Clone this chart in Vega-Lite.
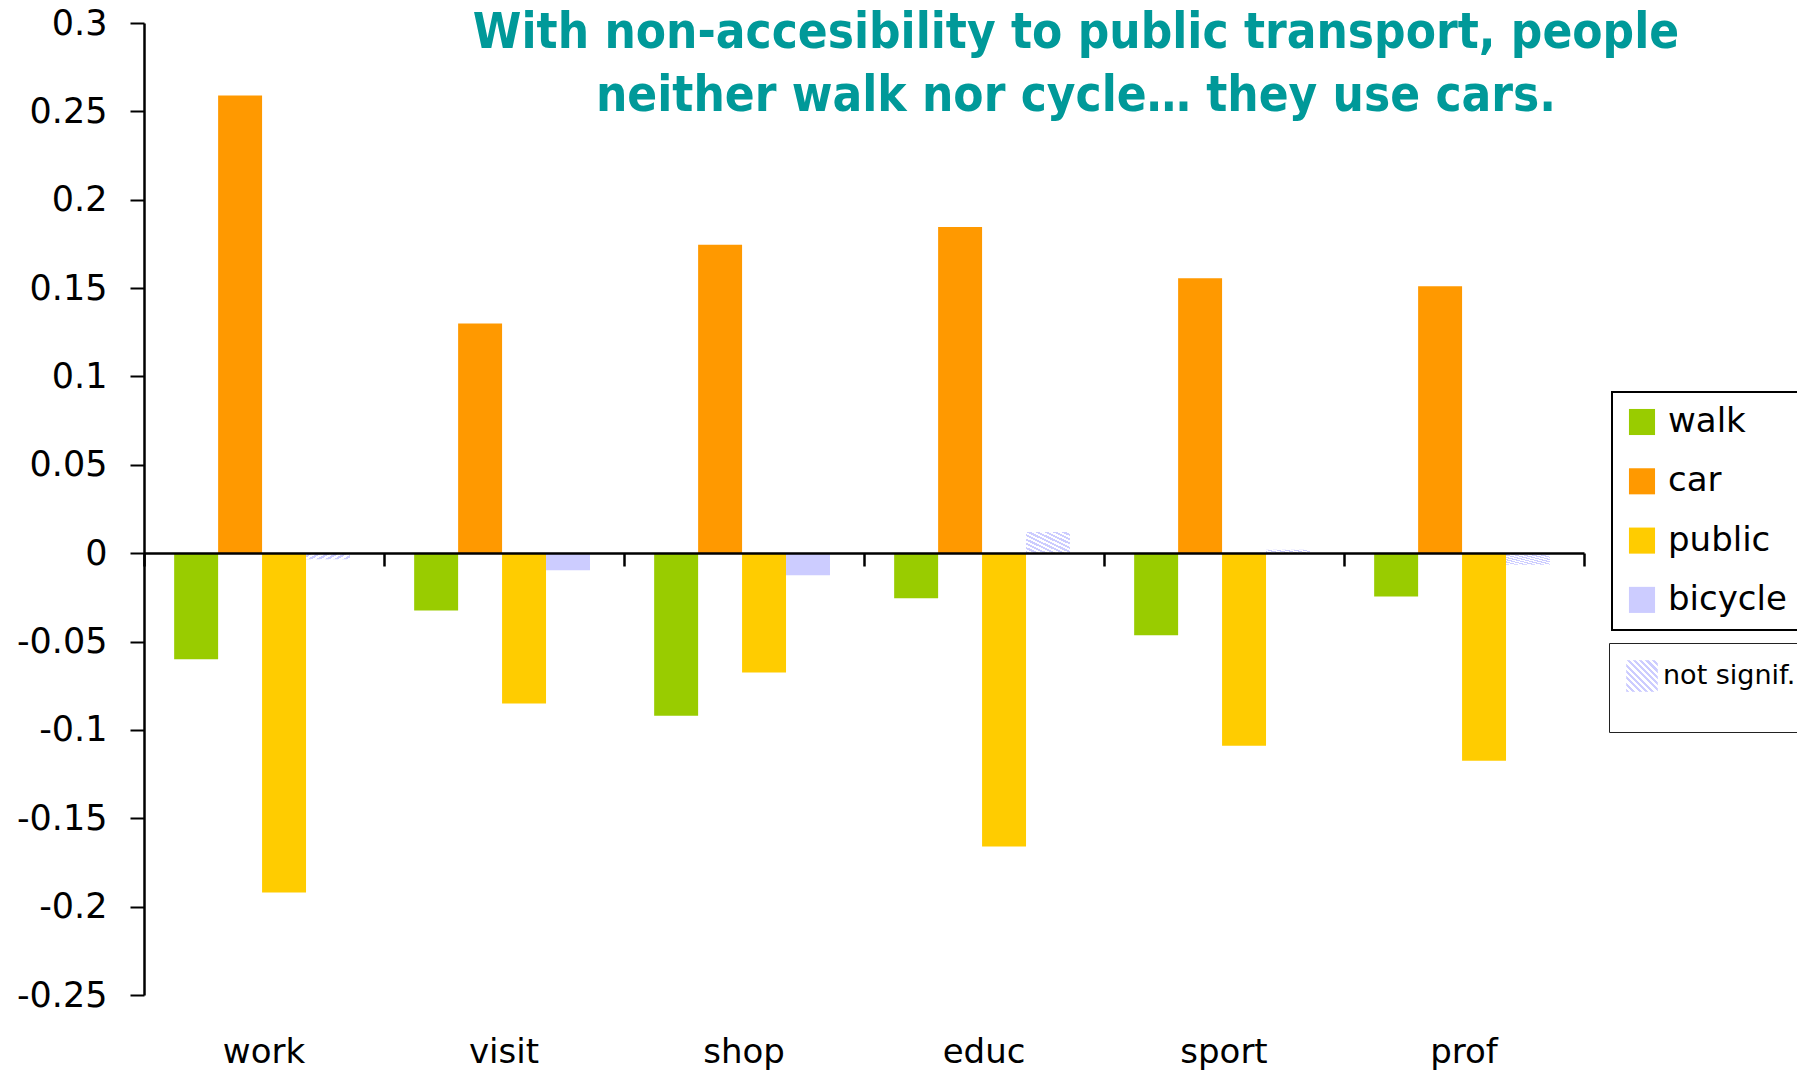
{
  "$schema": "https://vega.github.io/schema/vega-lite/v6.json",
  "width": 1440,
  "height": 972,
  "autosize": {"type": "none"},
  "padding": {"left": 144, "top": 23, "right": 213, "bottom": 78},
  "background": "white",
  "config": {"view": {"stroke": null}, "font": "DejaVu Sans"},
  "title": {
    "text": ["With non-accesibility to public transport, people", "neither walk nor cycle… they use cars."],
    "font": "DejaVu Sans Condensed",
    "fontWeight": "bold",
    "fontSize": 49,
    "color": "#009999",
    "anchor": "middle",
    "frame": "group",
    "dx": 212,
    "dy": 15,
    "offset": -100,
    "lineHeight": 63
  },
  "data": {
    "values": [
      {"purpose": "work", "mode": "walk", "value": -0.060, "sig": "yes"},
      {"purpose": "work", "mode": "car", "value": 0.259, "sig": "yes"},
      {"purpose": "work", "mode": "public", "value": -0.192, "sig": "yes"},
      {"purpose": "work", "mode": "bicycle", "value": -0.0035, "sig": "not signif."},
      {"purpose": "visit", "mode": "walk", "value": -0.0325, "sig": "yes"},
      {"purpose": "visit", "mode": "car", "value": 0.130, "sig": "yes"},
      {"purpose": "visit", "mode": "public", "value": -0.085, "sig": "yes"},
      {"purpose": "visit", "mode": "bicycle", "value": -0.0096, "sig": "yes"},
      {"purpose": "shop", "mode": "walk", "value": -0.092, "sig": "yes"},
      {"purpose": "shop", "mode": "car", "value": 0.1745, "sig": "yes"},
      {"purpose": "shop", "mode": "public", "value": -0.0675, "sig": "yes"},
      {"purpose": "shop", "mode": "bicycle", "value": -0.0125, "sig": "yes"},
      {"purpose": "educ", "mode": "walk", "value": -0.0255, "sig": "yes"},
      {"purpose": "educ", "mode": "car", "value": 0.1845, "sig": "yes"},
      {"purpose": "educ", "mode": "public", "value": -0.166, "sig": "yes"},
      {"purpose": "educ", "mode": "bicycle", "value": 0.012, "sig": "not signif."},
      {"purpose": "sport", "mode": "walk", "value": -0.0465, "sig": "yes"},
      {"purpose": "sport", "mode": "car", "value": 0.1555, "sig": "yes"},
      {"purpose": "sport", "mode": "public", "value": -0.109, "sig": "yes"},
      {"purpose": "sport", "mode": "bicycle", "value": 0.002, "sig": "not signif."},
      {"purpose": "prof", "mode": "walk", "value": -0.0245, "sig": "yes"},
      {"purpose": "prof", "mode": "car", "value": 0.151, "sig": "yes"},
      {"purpose": "prof", "mode": "public", "value": -0.1175, "sig": "yes"},
      {"purpose": "prof", "mode": "bicycle", "value": -0.0066, "sig": "not signif."}
    ]
  },
  "layer": [
    {
      "transform": [{"filter": "datum.sig == 'yes'"}],
      "mark": {"type": "bar"},
      "encoding": {
        "x": {
          "field": "purpose", "type": "nominal",
          "sort": ["work", "visit", "shop", "educ", "sport", "prof"],
          "scale": {"paddingInner": 0, "paddingOuter": 0},
          "axis": {
            "orient": "bottom", "title": null, "labels": false, "offset": -442, "zindex": 1,
            "domainColor": "black", "domainWidth": 2.5,
            "ticks": true, "tickBand": "extent", "tickSize": 13, "tickWidth": 2.5, "tickColor": "black",
            "grid": false
          }
        },
        "xOffset": {
          "field": "mode", "type": "nominal",
          "scale": {"domain": ["walk", "car", "public", "bicycle"], "paddingInner": 0, "paddingOuter": 0.73, "align": 0.47}
        },
        "y": {
          "field": "value", "type": "quantitative",
          "scale": {"domain": [-0.25, 0.3], "nice": false, "zero": false},
          "axis": {
            "title": null, "grid": false,
            "values": [-0.25, -0.2, -0.15, -0.1, -0.05, 0, 0.05, 0.1, 0.15, 0.2, 0.25, 0.3],
            "labelExpr": "'' + datum.value",
            "labelFont": "DejaVu Sans", "labelFontSize": 35, "labelColor": "black", "labelPadding": 23,
            "domainColor": "black", "domainWidth": 2.5,
            "tickColor": "black", "tickSize": 14, "tickWidth": 2
          }
        },
        "color": {
          "field": "mode", "type": "nominal",
          "scale": {"domain": ["walk", "car", "public", "bicycle"], "range": ["#99cc00", "#ff9900", "#ffcc00", "#ccccff"]},
          "legend": {
            "orient": "none", "legendX": 1468, "legendY": 369, "title": null,
            "symbolType": "square", "symbolSize": 680, "symbolStrokeWidth": 0,
            "labelFont": "DejaVu Sans", "labelFontSize": 34, "labelColor": "black", "labelOffset": 9, "labelLimit": 400,
            "rowPadding": 25.3, "padding": 13,
            "strokeColor": "black", "fillColor": "white",
            "encode": {"legend": {"update": {"strokeWidth": {"value": 2}}}}
          }
        }
      }
    },
    {
      "transform": [{"filter": "datum.sig != 'yes'"}],
      "mark": {
        "type": "bar",
        "fill": {
          "gradient": "linear", "x1": 0, "y1": 1, "x2": 1, "y2": 0,
          "stops": [
            {"offset": 0, "color": "#ccccff"}, {"offset": 0.05, "color": "#ccccff"}, {"offset": 0.05, "color": "#ffffff"}, {"offset": 0.1, "color": "#ffffff"},
            {"offset": 0.1, "color": "#ccccff"}, {"offset": 0.15, "color": "#ccccff"}, {"offset": 0.15, "color": "#ffffff"}, {"offset": 0.2, "color": "#ffffff"},
            {"offset": 0.2, "color": "#ccccff"}, {"offset": 0.25, "color": "#ccccff"}, {"offset": 0.25, "color": "#ffffff"}, {"offset": 0.3, "color": "#ffffff"},
            {"offset": 0.3, "color": "#ccccff"}, {"offset": 0.35, "color": "#ccccff"}, {"offset": 0.35, "color": "#ffffff"}, {"offset": 0.4, "color": "#ffffff"},
            {"offset": 0.4, "color": "#ccccff"}, {"offset": 0.45, "color": "#ccccff"}, {"offset": 0.45, "color": "#ffffff"}, {"offset": 0.5, "color": "#ffffff"},
            {"offset": 0.5, "color": "#ccccff"}, {"offset": 0.55, "color": "#ccccff"}, {"offset": 0.55, "color": "#ffffff"}, {"offset": 0.6, "color": "#ffffff"},
            {"offset": 0.6, "color": "#ccccff"}, {"offset": 0.65, "color": "#ccccff"}, {"offset": 0.65, "color": "#ffffff"}, {"offset": 0.7, "color": "#ffffff"},
            {"offset": 0.7, "color": "#ccccff"}, {"offset": 0.75, "color": "#ccccff"}, {"offset": 0.75, "color": "#ffffff"}, {"offset": 0.8, "color": "#ffffff"},
            {"offset": 0.8, "color": "#ccccff"}, {"offset": 0.85, "color": "#ccccff"}, {"offset": 0.85, "color": "#ffffff"}, {"offset": 0.9, "color": "#ffffff"},
            {"offset": 0.9, "color": "#ccccff"}, {"offset": 0.95, "color": "#ccccff"}, {"offset": 0.95, "color": "#ffffff"}, {"offset": 1, "color": "#ffffff"}
          ]
        }
      },
      "encoding": {
        "x": {
          "field": "purpose", "type": "nominal",
          "sort": ["work", "visit", "shop", "educ", "sport", "prof"],
          "axis": {
            "orient": "bottom", "title": null, "domain": false, "ticks": false, "tickSize": 0, "grid": false,
            "labelFont": "DejaVu Sans", "labelFontSize": 34, "labelColor": "black",
            "labelBaseline": "alphabetic", "labelPadding": 67, "labelAngle": 0
          }
        },
        "xOffset": {
          "field": "mode", "type": "nominal",
          "scale": {"domain": ["walk", "car", "public", "bicycle"]}
        },
        "y": {"field": "value", "type": "quantitative"},
        "opacity": {
          "field": "sig", "type": "nominal",
          "scale": {"domain": ["not signif."], "range": [1, 1]},
          "legend": {
            "orient": "none", "legendX": 1465, "legendY": 620,
            "title": " ", "titleOrient": "bottom", "titleFontSize": 13, "titlePadding": 10,
            "symbolType": "square", "symbolSize": 1000, "symbolStrokeWidth": 0, "symbolFillColor": "#dddddd",
            "labelFont": "DejaVu Sans", "labelFontSize": 27, "labelColor": "black", "labelOffset": 5, "labelLimit": 400,
            "padding": 17,
            "strokeColor": "#222222", "fillColor": "white",
            "encode": {
              "legend": {"update": {"strokeWidth": {"value": 1.5}}},
              "symbols": {
                "enter": {
                  "fill": {
                    "value": {
                      "gradient": "linear", "x1": 0, "y1": 1, "x2": 1, "y2": 0,
                      "stops": [
                        {"offset": 0, "color": "#d4d4d4"}, {"offset": 0.1, "color": "#d4d4d4"}, {"offset": 0.1, "color": "#f4f4f4"}, {"offset": 0.2, "color": "#f4f4f4"},
                        {"offset": 0.2, "color": "#d4d4d4"}, {"offset": 0.3, "color": "#d4d4d4"}, {"offset": 0.3, "color": "#f4f4f4"}, {"offset": 0.4, "color": "#f4f4f4"},
                        {"offset": 0.4, "color": "#d4d4d4"}, {"offset": 0.5, "color": "#d4d4d4"}, {"offset": 0.5, "color": "#f4f4f4"}, {"offset": 0.6, "color": "#f4f4f4"},
                        {"offset": 0.6, "color": "#d4d4d4"}, {"offset": 0.7, "color": "#d4d4d4"}, {"offset": 0.7, "color": "#f4f4f4"}, {"offset": 0.8, "color": "#f4f4f4"},
                        {"offset": 0.8, "color": "#d4d4d4"}, {"offset": 0.9, "color": "#d4d4d4"}, {"offset": 0.9, "color": "#f4f4f4"}, {"offset": 1, "color": "#f4f4f4"}
                      ]
                    }
                  }
                },
                "update": {
                  "fill": {
                    "value": {
                      "gradient": "linear", "x1": 0, "y1": 1, "x2": 1, "y2": 0,
                      "stops": [
                        {"offset": 0, "color": "#d4d4d4"}, {"offset": 0.1, "color": "#d4d4d4"}, {"offset": 0.1, "color": "#f4f4f4"}, {"offset": 0.2, "color": "#f4f4f4"},
                        {"offset": 0.2, "color": "#d4d4d4"}, {"offset": 0.3, "color": "#d4d4d4"}, {"offset": 0.3, "color": "#f4f4f4"}, {"offset": 0.4, "color": "#f4f4f4"},
                        {"offset": 0.4, "color": "#d4d4d4"}, {"offset": 0.5, "color": "#d4d4d4"}, {"offset": 0.5, "color": "#f4f4f4"}, {"offset": 0.6, "color": "#f4f4f4"},
                        {"offset": 0.6, "color": "#d4d4d4"}, {"offset": 0.7, "color": "#d4d4d4"}, {"offset": 0.7, "color": "#f4f4f4"}, {"offset": 0.8, "color": "#f4f4f4"},
                        {"offset": 0.8, "color": "#d4d4d4"}, {"offset": 0.9, "color": "#d4d4d4"}, {"offset": 0.9, "color": "#f4f4f4"}, {"offset": 1, "color": "#f4f4f4"}
                      ]
                    }
                  }
                }
              }
            }
          }
        }
      }
    }
  ],
  "resolve": {"axis": {"x": "independent"}}
}
